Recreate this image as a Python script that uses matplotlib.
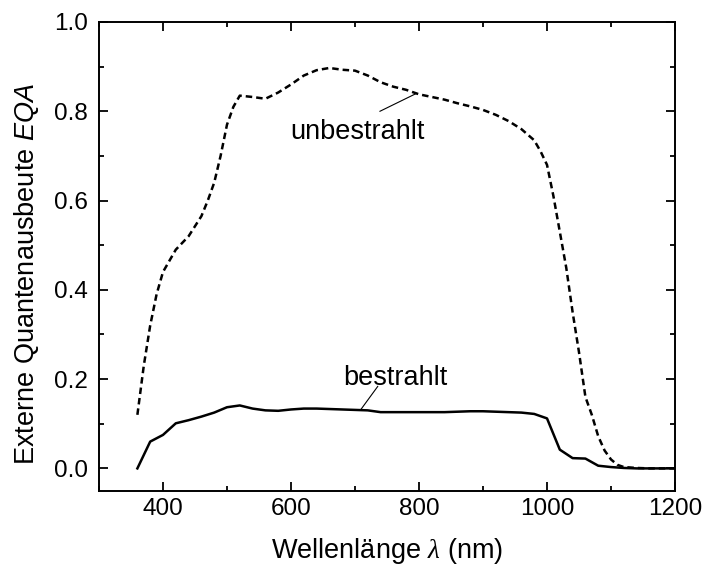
import matplotlib
matplotlib.use("Agg")
import matplotlib.pyplot as plt
from matplotlib.ticker import MultipleLocator

plt.rcParams["font.family"] = ["Liberation Sans", "DejaVu Sans"]
plt.rcParams["mathtext.fontset"] = "custom"
plt.rcParams["mathtext.rm"] = "Liberation Sans"
plt.rcParams["mathtext.it"] = "Liberation Sans:italic"
plt.rcParams["mathtext.cal"] = "Liberation Serif:italic"

# unbestrahlt (dashed)
wl_unbestrahlt = [360, 370, 380, 390, 400, 420, 440, 460, 470, 480, 490, 500, 510, 520,
                  540, 560, 580, 600, 620, 640, 660, 680, 700, 720, 740, 760, 780, 800,
                  820, 840, 860, 880, 900, 920, 940, 960, 980, 990, 1000, 1010, 1020,
                  1030, 1040, 1050, 1060, 1070, 1080, 1090, 1100, 1110, 1120, 1140,
                  1160, 1180, 1200]
eqa_unbestrahlt = [0.12, 0.23, 0.32, 0.39, 0.44, 0.49, 0.52, 0.565, 0.60, 0.64, 0.70, 0.77,
                   0.81, 0.835, 0.832, 0.828, 0.842, 0.86, 0.88, 0.892, 0.897, 0.893, 0.891,
                   0.88, 0.865, 0.855, 0.848, 0.838, 0.832, 0.826, 0.818, 0.811, 0.803,
                   0.792, 0.778, 0.76, 0.735, 0.71, 0.68, 0.61, 0.53, 0.45, 0.35, 0.26,
                   0.16, 0.12, 0.072, 0.04, 0.02, 0.008, 0.003, 0.001, 0.0, 0.0, 0.0]

# bestrahlt (solid)
wl_bestrahlt = [360, 380, 400, 420, 440, 460, 480, 500, 520, 540, 560, 580, 600, 620, 640,
                660, 680, 700, 720, 740, 760, 780, 800, 820, 840, 860, 880, 900, 920, 940,
                960, 980, 1000, 1020, 1040, 1060, 1080, 1100, 1120, 1140, 1160, 1180, 1200]
eqa_bestrahlt = [0.0, 0.06, 0.075, 0.101, 0.108, 0.116, 0.125, 0.137, 0.141, 0.134, 0.130,
                 0.129, 0.132, 0.134, 0.134, 0.133, 0.132, 0.131, 0.130, 0.126, 0.126, 0.126,
                 0.126, 0.126, 0.126, 0.127, 0.128, 0.128, 0.127, 0.126, 0.125, 0.122, 0.112,
                 0.042, 0.023, 0.022, 0.006, 0.003, 0.001, 0.0, 0.0, 0.0, 0.0]

X_TICKS = [400, 600, 800, 1000, 1200]
Y_TICKS = [0.0, 0.2, 0.4, 0.6, 0.8, 1.0]

fig = plt.figure(figsize=(7.03, 5.71), dpi=100)
ax = fig.add_axes([0.1408, 0.1406, 0.8194, 0.8209])

ax.plot(wl_unbestrahlt, eqa_unbestrahlt, color="black", lw=1.8, linestyle=(0, (2.6, 1.6)))
ax.plot(wl_bestrahlt, eqa_bestrahlt, color="black", lw=1.8)

ax.set_xlim(300, 1200)
ax.set_ylim(-0.05, 1.0)
ax.set_xticks(X_TICKS)
ax.set_yticks(Y_TICKS)
ax.set_yticklabels([f"{v:.1f}" for v in Y_TICKS])
ax.xaxis.set_minor_locator(MultipleLocator(100))
ax.yaxis.set_minor_locator(MultipleLocator(0.1))

ax.tick_params(which="both", direction="in", top=True, right=True, width=1.3, labelsize=17.5)
ax.tick_params(which="major", length=6.5)
ax.tick_params(which="minor", length=3.4)
ax.tick_params(axis="x", pad=5.5)
ax.tick_params(axis="y", pad=8)
for sp in ax.spines.values():
    sp.set_linewidth(1.4)

ax.set_xlabel(r"Wellenlänge $\mathcal{\lambda}$ (nm)", fontsize=19.5, labelpad=11)
ax.set_ylabel(r"Externe Quantenausbeute $EQA$", fontsize=19.5)
ax.yaxis.set_label_coords(-0.101, 0.462)

ax.text(704, 0.7385, "unbestrahlt", fontsize=19.5, ha="center", va="baseline")
ax.plot([739, 796], [0.80, 0.84], color="black", lw=0.8)
ax.text(762.5, 0.187, "bestrahlt", fontsize=19.5, ha="center", va="baseline")
ax.plot([735.5, 709.7], [0.1836, 0.133], color="black", lw=0.8)

fig.savefig("out.png", dpi=100)
